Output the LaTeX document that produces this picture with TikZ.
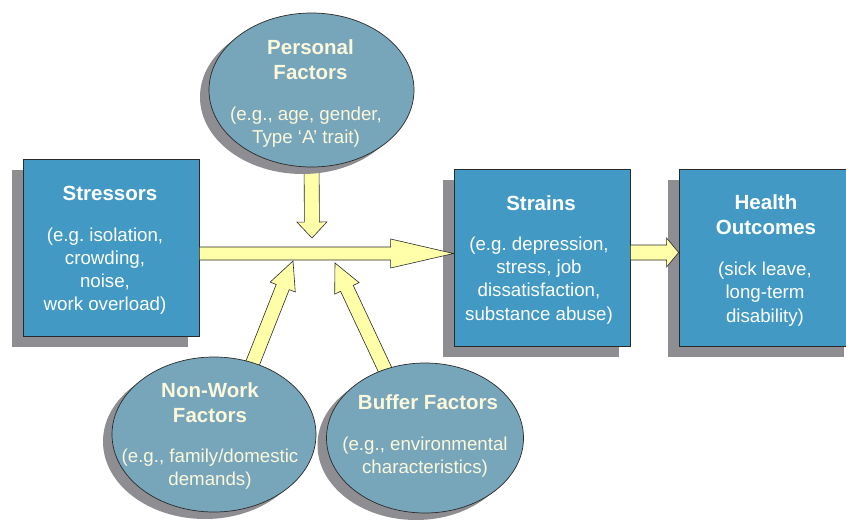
\documentclass[tikz,border=0pt]{standalone}
\usepackage{fontspec}
\setmainfont{Liberation Sans}
\usetikzlibrary{calc,shapes.geometric,shadows}
\frenchspacing
\definecolor{boxblue}{HTML}{429AC4}
\definecolor{ellblue}{HTML}{77A6BA}
\definecolor{shadowgray}{HTML}{8D8D92}
\definecolor{arrowyellow}{HTML}{FFFFAA}
\definecolor{cream}{HTML}{FBF8DC}
\definecolor{edge}{HTML}{2A2A2A}
\tikzset{
  box/.style={draw=edge, line width=0.8pt, fill=boxblue, rectangle, inner sep=0pt,
    minimum width=176pt, minimum height=177pt,
    drop shadow={shadow xshift=-11pt, shadow yshift=-11pt, fill=shadowgray, opacity=1}},
  ell/.style={draw=edge, line width=0.7pt, fill=ellblue, ellipse, inner sep=0pt,
    drop shadow={shadow xshift=-9pt, shadow yshift=-7pt, fill=shadowgray, opacity=1}},
  ttl/.style={font=\fontsize{20.5}{24.5}\selectfont\bfseries, align=center, inner sep=0pt},
  sub/.style={font=\fontsize{18.7}{23.2}\selectfont\frenchspacing, align=center, inner sep=0pt},
  boxtxt/.style={text=white},
  elltxt/.style={text=cream},
  arrowfill/.style={draw=edge, line width=0.6pt, fill=arrowyellow, line join=miter},
}
% start, tip, shaft half width, head half width, head length
\newcommand{\fatarrow}[5]{%
  \path (#1) coordinate (fa-s) (#2) coordinate (fa-t);
  \coordinate (fa-b) at ($(fa-t)!#5!(fa-s)$);
  \draw[arrowfill] ($(fa-s)!#3!90:(fa-t)$) -- ($(fa-b)!#3!90:(fa-t)$)
    -- ($(fa-b)!#4!90:(fa-t)$) -- (fa-t) -- ($(fa-b)!#4!-90:(fa-t)$)
    -- ($(fa-b)!#3!-90:(fa-t)$) -- ($(fa-s)!#3!-90:(fa-t)$) -- cycle;
}
\begin{document}
\begin{tikzpicture}[x=1pt, y=-1pt]
\clip (0,0) rectangle (846,520);
\fill[white] (0,0) rectangle (846,520);

% boxes
\node[box] (stressors) at (111,247.5) {};
\node[box] (strains) at (542,257.5) {};
\node[box] (health) at (767,257.5) {};

\node[ttl, boxtxt] (stressors-t) at (110,193) {Stressors};
\node[sub, boxtxt] (stressors-s) at (105,271) {(e.g. isolation,\\crowding,\\noise,\\work overload)};

\node[ttl, boxtxt] (strains-t) at (541,203) {Strains};
\node[sub, boxtxt] (strains-s) at (539,280.5) {(e.g. depression,\\stress, job\\dissatisfaction,\\substance abuse)};

\node[ttl, boxtxt] (health-t) at (766,214.5) {Health\\Outcomes};
\node[sub, boxtxt] (health-s) at (765,294) {(sick leave,\\long-term\\disability)};

% connectors
\coordinate (main-s) at (stressors.east |- 0,253.5);
\coordinate (main-t) at (strains.west |- 0,253.5);
\fatarrow{main-s}{main-t}{6.5pt}{14.5pt}{63pt}

\coordinate (ho-s) at (strains.east |- 0,252.5);
\coordinate (ho-t) at (health.west |- 0,252.5);
\fatarrow{ho-s}{ho-t}{7.5pt}{14.5pt}{12pt}

\coordinate (pf-s) at (311.5,150);
\coordinate (pf-t) at (312,238);
\fatarrow{pf-s}{pf-t}{7.5pt}{15pt}{16pt}

\coordinate (nw-s) at (246,380);
\coordinate (nw-t) at (293,261);
\fatarrow{nw-s}{nw-t}{7pt}{13.5pt}{28pt}

\coordinate (bf-s) at (388,376);
\coordinate (bf-t) at (335,263);
\fatarrow{bf-s}{bf-t}{7pt}{13.5pt}{28pt}

% ellipses
\node[ell, minimum width=205pt, minimum height=154pt] (personal) at (311.5,90) {};
\node[ell, minimum width=204pt, minimum height=155pt] (nonwork) at (214,434.5) {};
\node[ell, minimum width=197pt, minimum height=150pt] (buffer) at (425,438) {};

\node[ttl, elltxt] (personal-t) at (310.5,59.5) {Personal\\Factors};
\node[sub, elltxt] (personal-s) at (306,127.5) {(e.g., age, gender,\\Type ‘A’ trait)};

\node[ttl, elltxt] (nonwork-t) at (210,402.5) {Non-Work\\Factors};
\node[sub, elltxt] (nonwork-s) at (210,469) {(e.g., family/domestic\\demands)};

\node[ttl, elltxt] (buffer-t) at (428,402) {Buffer Factors};
\node[sub, elltxt] (buffer-s) at (425,457) {(e.g., environmental\\characteristics)};
\end{tikzpicture}
\end{document}
